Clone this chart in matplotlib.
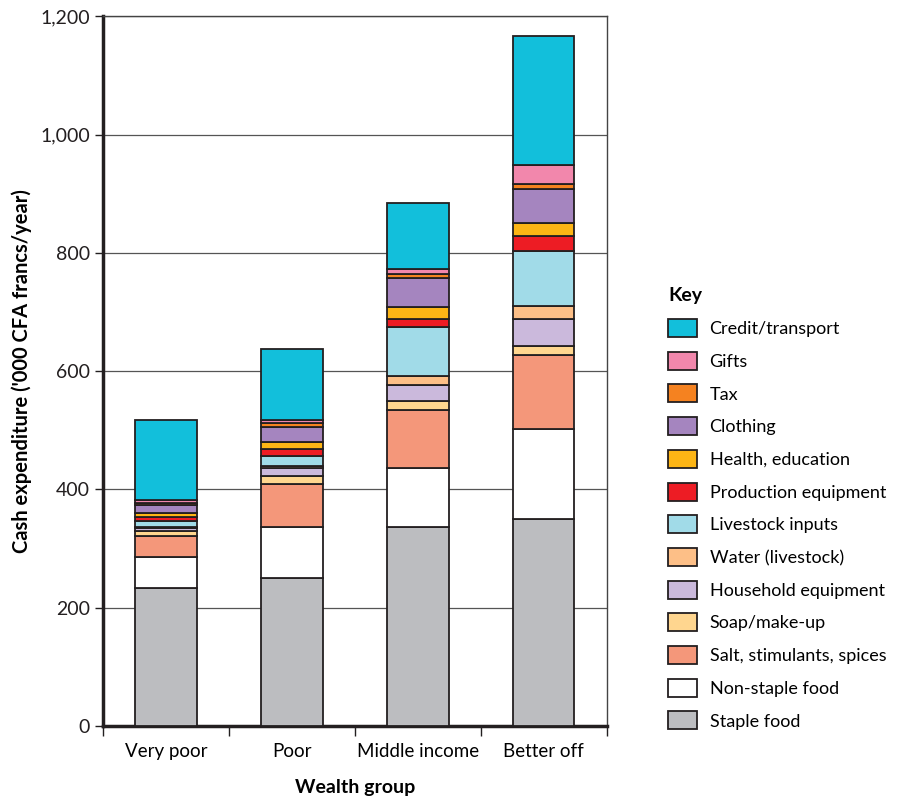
import matplotlib
matplotlib.use('Agg')
import matplotlib.pyplot as plt
import numpy as np

plt.rcParams['font.family'] = ['Lato', 'DejaVu Sans']

groups = ['Very poor', 'Poor', 'Middle income', 'Better off']

# bottom to top
categories = ['Staple food', 'Non-staple food', 'Salt, stimulants, spices',
              'Soap/make-up', 'Household equipment', 'Water (livestock)',
              'Livestock inputs', 'Production equipment', 'Health, education',
              'Clothing', 'Tax', 'Gifts', 'Credit/transport']

staple = [234, 250, 336, 350]
non_staple = [51, 86, 101, 152]
salt = [37, 73, 97, 125]
soap = [7, 13, 16, 15]
household = [5, 15, 26, 46]
water = [3, 2, 16, 22]
livestock = [10, 17, 82, 93]
production = [7, 12, 15, 25]
health = [6, 13, 20, 23]
clothing = [13, 25, 48, 57]
tax = [4, 6, 8, 8]
gifts = [5, 6, 8, 32]
credit = [136, 120, 111, 219]

values = [staple, non_staple, salt, soap, household, water, livestock,
          production, health, clothing, tax, gifts, credit]

colors = ['#bcbdc0', '#ffffff', '#f4977a', '#ffd68f', '#cbb9dc', '#fdbf87',
          '#a1dbe8', '#ed1c24', '#fdb515', '#a585bf', '#f58220', '#f287ac',
          '#12bfdb']

fig = plt.figure(figsize=(9.04, 8), dpi=100)
ax = fig.add_axes([0.114, 0.0925, 0.557, 0.887])

x = np.arange(len(groups))
bottom = np.zeros(len(groups))
handles = []
for cat, vals, c in zip(categories, values, colors):
    b = ax.bar(x, vals, width=0.49, bottom=bottom, color=c,
               edgecolor='#231f20', linewidth=1.3, label=cat, zorder=3)
    handles.append(b)
    bottom += np.asarray(vals)

ax.set_xlim(-0.5, 3.5)
ax.set_ylim(0, 1200)
ax.set_yticks(np.arange(0, 1201, 200))
ax.set_yticklabels(['{:,}'.format(v) for v in range(0, 1201, 200)], fontsize=14)
ax.yaxis.grid(True, color='#555555', linewidth=0.9, zorder=0)

ax.set_xticks(x)
ax.set_xticklabels(groups, fontsize=13.5)
ax.tick_params(axis='x', length=0, pad=12)
ax.set_xticks(np.arange(-0.5, 4, 1), minor=True)
ax.tick_params(axis='x', which='minor', length=7, width=1, color='#231f20')
ax.tick_params(axis='y', length=6, width=1, color='#231f20', labelcolor='#231f20')

for s in ['left', 'bottom']:
    ax.spines[s].set_linewidth(2.5)
    ax.spines[s].set_color('#231f20')
for s in ['top', 'right']:
    ax.spines[s].set_linewidth(1)
    ax.spines[s].set_color('#444444')

ax.set_xlabel('Wealth group', fontsize=14, fontweight='bold', labelpad=14)
ax.set_ylabel("Cash expenditure ('000 CFA francs/year)", fontsize=14.5,
              fontweight='bold', labelpad=6)

leg = fig.legend(handles[::-1], categories[::-1], loc='upper left',
                 bbox_to_anchor=(0.721, 0.661), frameon=False, fontsize=13,
                 title='Key', title_fontproperties={'weight': 'bold', 'size': 14},
                 handlelength=1.6, handleheight=1.15, labelspacing=0.81,
                 handletextpad=0.7, alignment='left')

fig.savefig('out.png', dpi=100)
